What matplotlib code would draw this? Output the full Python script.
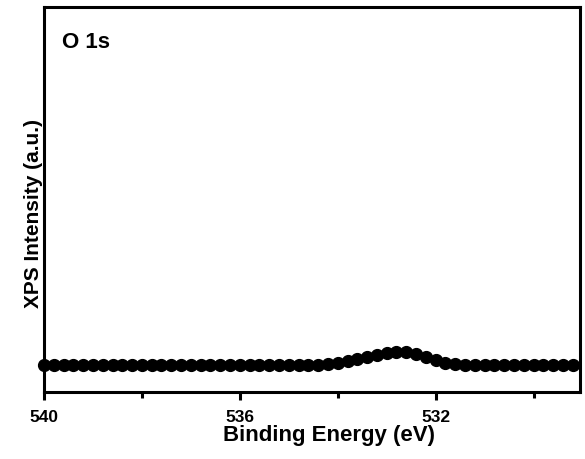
import matplotlib
matplotlib.use("Agg")
import matplotlib.pyplot as plt
from matplotlib.ticker import MultipleLocator, NullLocator

plt.rcParams['font.family'] = ['Liberation Sans', 'DejaVu Sans']
plt.rcParams['font.weight'] = 'bold'

# O 1s region, 0.2 eV steps from 540.0 down to 529.2 eV
binding_energy = [
    540.0, 539.8, 539.6, 539.4, 539.2, 539.0, 538.8, 538.6, 538.4, 538.2,
    538.0, 537.8, 537.6, 537.4, 537.2, 537.0, 536.8, 536.6, 536.4, 536.2,
    536.0, 535.8, 535.6, 535.4, 535.2, 535.0, 534.8, 534.6, 534.4, 534.2,
    534.0, 533.8, 533.6, 533.4, 533.2, 533.0, 532.8, 532.6, 532.4, 532.2,
    532.0, 531.8, 531.6, 531.4, 531.2, 531.0, 530.8, 530.6, 530.4, 530.2,
    530.0, 529.8, 529.6, 529.4, 529.2,
]
intensity = [
    70, 70, 70, 70, 70, 70, 70, 70, 70, 70,
    70, 70, 70, 70, 70, 70, 70, 70, 70, 70,
    70, 70, 70, 70, 70, 70, 70, 70, 71, 73,
    76, 80, 85, 91, 97, 102, 104, 103, 98, 90,
    82, 76, 72, 71, 70, 70, 70, 70, 70, 70,
    70, 70, 70, 70, 70,
]
major_ticks = [540, 536, 532]

fig = plt.figure(figsize=(5.85, 4.59), dpi=100)
ax = fig.add_axes([0.0752, 0.146, 0.9163, 0.839])

ax.plot(binding_energy, intensity, '-o', color='black', lw=2,
        markersize=8.5, clip_on=False, zorder=3)

ax.set_xlim(540.0, 529.05)
ax.set_ylim(0, 1000)
ax.set_xticks(major_ticks)
ax.xaxis.set_minor_locator(MultipleLocator(2))
ax.yaxis.set_major_locator(NullLocator())

for s in ax.spines.values():
    s.set_linewidth(2.2)
ax.tick_params(axis='x', which='major', direction='out', length=6, width=2.2,
               labelsize=12.5, pad=7)
ax.tick_params(axis='x', which='minor', direction='out', length=4, width=2.2)
for lbl in ax.get_xticklabels():
    lbl.set_fontweight('bold')

ax.set_xlabel('Binding Energy (eV)', fontsize=16, fontweight='bold')
ax.xaxis.set_label_coords(0.532, -0.086)
ax.set_ylabel('XPS Intensity (a.u.)', fontsize=15, fontweight='bold')
ax.yaxis.set_label_coords(-0.002, 0.464)

ax.text(0.034, 0.935, 'O 1s', transform=ax.transAxes, fontsize=16,
        fontweight='bold', va='top', ha='left')

fig.savefig('out.png', dpi=100)
